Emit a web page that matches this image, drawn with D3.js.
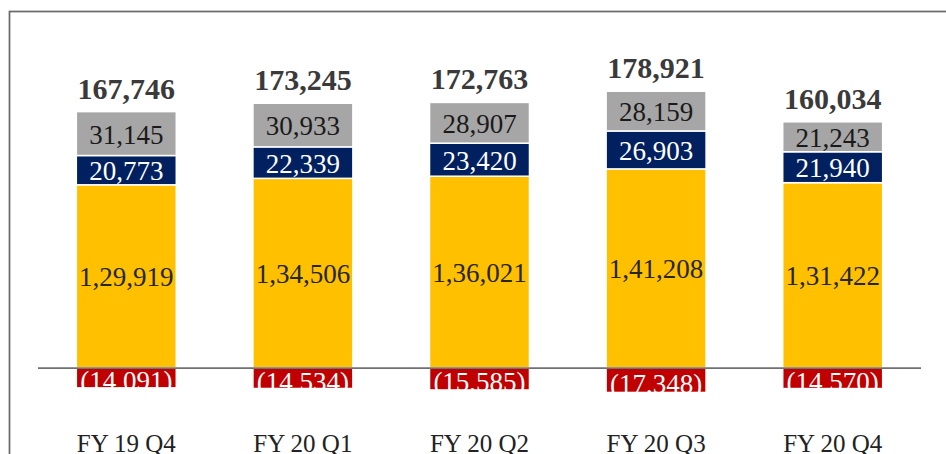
<!DOCTYPE html>
<html>
<head>
<meta charset="utf-8">
<script src="https://cdn.jsdelivr.net/npm/d3@7"></script>
<style>
  html, body { margin: 0; padding: 0; background: #fff; overflow: hidden; }
  svg text { font-family: "Liberation Serif", "DejaVu Serif", serif; }
</style>
</head>
<body>
<script>
const categories = ["FY 19 Q4", "FY 20 Q1", "FY 20 Q2", "FY 20 Q3", "FY 20 Q4"];
const baseValues = [129919, 134506, 136021, 141208, 131422];
const navyValues = [20773, 22339, 23420, 26903, 21940];
const grayValues = [31145, 30933, 28907, 28159, 21243];
const negValues = [-14091, -14534, -15585, -17348, -14570];
const totals = [167746, 173245, 172763, 178921, 160034];

const w = 946;
const h = 454;

const svg = d3.select("body")
  .append("svg")
  .attr("width", w)
  .attr("height", h);

// frame
svg.append("rect")
  .attr("x", 9.5)
  .attr("y", 11.5)
  .attr("width", 1000)
  .attr("height", 600)
  .attr("fill", "none")
  .attr("stroke", "#6b6b6b")
  .attr("stroke-width", 1.75);

const x = d3.scaleBand()
  .domain(categories)
  .range([38, 921])
  .paddingInner(0.434)
  .paddingOuter(0.217);

const y = d3.scaleLinear()
  .domain([0, 200000])
  .range([368, 86]);

const indian = d3.formatLocale({ decimal: ".", thousands: ",", grouping: [3, 2], currency: ["", ""] }).format(",");
const western = d3.format(",");

const series = [
  { name: "base", values: baseValues, fill: "#FFC000", text: "#262626", fmt: indian },
  { name: "navy", values: navyValues, fill: "#002060", text: "#ffffff", fmt: western },
  { name: "gray", values: grayValues, fill: "#A6A6A6", text: "#1a1a1a", fmt: western }
];

// build stacked segments
let segs = [];
categories.forEach((c, i) => {
  let acc = 0;
  series.forEach(s => {
    let v = s.values[i];
    segs.push({ cat: c, y0: acc, y1: acc + v, v: v, s: s });
    acc += v;
  });
  segs.push({ cat: c, y0: negValues[i], y1: 0, v: negValues[i], s: { fill: "#C00000", text: "#ffffff", fmt: d => "(" + western(-d) + ")" } });
});

svg.selectAll("rect.seg").data(segs).enter()
  .append("rect")
  .attr("class", "seg")
  .attr("x", d => x(d.cat))
  .attr("y", d => y(d.y1))
  .attr("width", x.bandwidth())
  .attr("height", d => y(d.y0) - y(d.y1))
  .attr("fill", d => d.s.fill)
  .attr("stroke", "#ffffff")
  .attr("stroke-width", 1.5);

// axis line
svg.append("line")
  .attr("x1", x.range()[0])
  .attr("x2", x.range()[1])
  .attr("y1", y(0))
  .attr("y2", y(0))
  .attr("stroke", "#707070")
  .attr("stroke-width", 1.75);

// segment labels
svg.selectAll("text.seg").data(segs).enter()
  .append("text")
  .attr("class", "seg")
  .attr("x", d => x(d.cat) + x.bandwidth() / 2)
  .attr("y", d => (y(d.y0) + y(d.y1)) / 2 + (d.v < 0 ? 3.5 : 1))
  .attr("text-anchor", "middle")
  .attr("dominant-baseline", "central")
  .attr("font-size", 27)
  .attr("fill", d => d.s.text)
  .text(d => d.s.fmt(d.v));

// totals
svg.selectAll("text.total").data(categories).enter()
  .append("text")
  .attr("class", "total")
  .attr("x", d => x(d) + x.bandwidth() / 2)
  .attr("y", (d, i) => y(baseValues[i] + navyValues[i] + grayValues[i]) - 13)
  .attr("text-anchor", "middle")
  .attr("font-size", 30)
  .attr("font-weight", "bold")
  .attr("fill", "#3a3a3a")
  .text((d, i) => western(totals[i]));

// category labels
svg.selectAll("text.cat").data(categories).enter()
  .append("text")
  .attr("class", "cat")
  .attr("x", d => x(d) + x.bandwidth() / 2)
  .attr("y", 452)
  .attr("text-anchor", "middle")
  .attr("font-size", 25)
  .attr("fill", "#222")
  .text(d => d);
</script>
</body>
</html>
